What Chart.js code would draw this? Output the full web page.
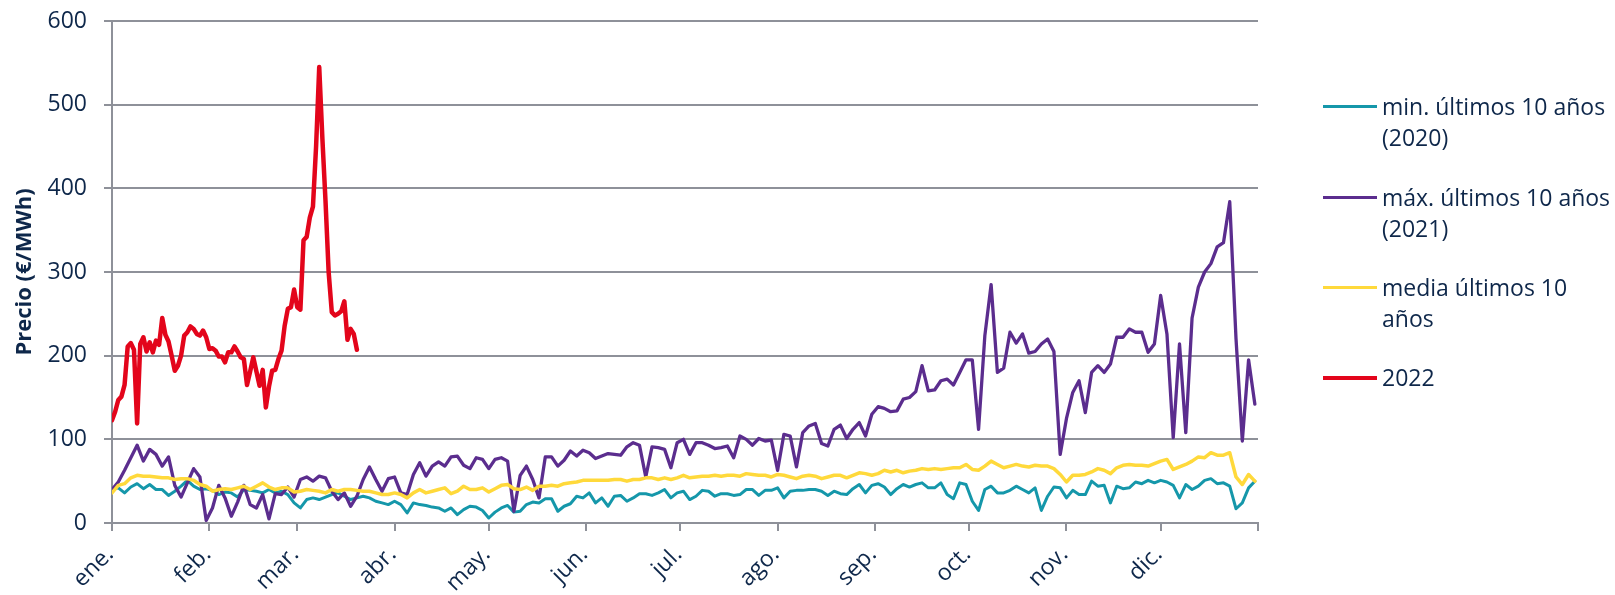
<!DOCTYPE html>
<html lang="es">
<head>
<meta charset="utf-8">
<title>Precio</title>
<script src="https://cdn.jsdelivr.net/npm/chart.js@4.4.1/dist/chart.umd.min.js"></script>
<style>
  html, body { margin: 0; padding: 0; background: #fff; }
  #wrap { position: relative; width: 1615px; height: 595px; overflow: hidden; }
  #chart { position: absolute; left: 0; top: 0; }
  .legend { position: absolute; left: 1323px; top: 0; font-family: 'Open Sans', sans-serif; font-size: 23px; line-height: 31px; color: #0e274a; }
  .item { position: absolute; left: 0; white-space: nowrap; }
  .swatch { position: absolute; left: 0; top: 14px; width: 54px; height: 3px; }
  .label { position: absolute; left: 59px; top: 0; }
</style>
</head>
<body>
<div id="wrap">
  <canvas id="chart" width="1615" height="595"></canvas>
  <div class="legend" id="legend"></div>
</div>
<script>
// eje x: día del año, con marcas al inicio de cada mes
const monthStarts = [0, 31, 59, 90, 120, 151, 181, 212, 243, 273, 304, 334, 365];
const monthLabels = ['ene.', 'feb.', 'mar.', 'abr.', 'may.', 'jun.', 'jul.', 'ago.', 'sep.', 'oct.', 'nov.', 'dic.'];

// series históricas: un valor cada 2 días (1 ene ... 31 dic)
const minLast10 = [
  40, 42, 36, 43, 47, 41, 46, 40, 40, 33, 38, 44, 51, 44, 40, 41, 39, 34, 37, 36, 31, 40, 39,
  38, 36, 40, 36, 38, 34, 24, 18, 28, 30, 28, 31, 34, 36, 32, 28, 30, 32, 30, 26, 24, 22, 26,
  22, 12, 24, 22, 21, 19, 18, 14, 18, 10, 16, 20, 19, 15, 6, 13, 18, 21, 13, 14, 22, 25, 24,
  29, 29, 14, 20, 23, 32, 30, 36, 24, 30, 20, 32, 33, 26, 30, 35, 35, 33, 36, 40, 30, 36,
  38, 28, 32, 39, 38, 32, 35, 35, 33, 34, 40, 40, 33, 39, 39, 42, 30, 38, 39, 39, 40, 40,
  38, 33, 38, 35, 34, 41, 46, 36, 45, 47, 43, 34, 41, 46, 43, 46, 48, 42, 42, 48, 34, 29,
  48, 46, 26, 15, 40, 44, 36, 36, 39, 44, 40, 36, 42, 15, 32, 43, 42, 30, 39, 34, 34, 50,
  44, 45, 24, 44, 41, 42, 49, 47, 51, 48, 51, 49, 45, 30, 46, 40, 44, 51, 53, 47, 48, 44,
  17, 24, 42, 50
];
const maxLast10 = [
  40, 49, 63, 78, 93, 74, 88, 82, 68, 79, 45, 31, 48, 65, 55, 3, 18, 45, 30, 8, 25, 45, 22,
  18, 34, 5, 35, 34, 43, 31, 52, 55, 50, 56, 54, 38, 28, 36, 20, 32, 52, 67, 52, 38, 53, 55,
  36, 34, 58, 72, 56, 68, 73, 68, 79, 80, 69, 65, 78, 76, 65, 76, 78, 74, 14, 57, 68, 52,
  30, 79, 79, 68, 75, 86, 80, 87, 84, 77, 80, 83, 82, 81, 91, 96, 93, 55, 91, 90, 88, 66, 96,
  100, 82, 96, 96, 93, 89, 90, 92, 78, 104, 100, 93, 101, 98, 99, 63, 106, 104, 67, 108,
  116, 119, 95, 92, 112, 117, 101, 112, 120, 104, 130, 139, 137, 133, 134, 148, 150, 157,
  188, 158, 159, 170, 172, 165,
  180, 195, 195, 112, 224, 285, 180, 185, 228, 215, 226, 203, 205, 214, 220, 205, 82, 125,
  156, 170, 132, 180, 188, 180, 190, 222, 222, 232, 228, 228, 204, 214, 272, 226, 102, 214,
  108, 245, 282, 300, 310, 330, 335, 384, 220, 98, 195, 142
];
const meanLast10 = [
  36, 45, 47, 54, 57, 56, 56, 55, 54, 54, 52, 53, 53, 51, 46, 44, 38, 40, 41, 40, 42, 44, 40,
  44, 48, 43, 40, 42, 42, 37, 38, 40, 39, 38, 36, 40, 38, 40, 40, 39, 38, 38, 36, 34, 34, 36,
  34, 30, 36, 40, 36, 38, 40, 42, 35, 38, 44, 40, 40, 42, 37, 41, 45, 46, 41, 40, 43, 39, 44,
  44, 45, 44, 47, 48, 49, 51, 51, 51, 51, 51, 52, 52, 50, 52, 52, 54, 54, 52, 54, 52, 54,
  57, 54, 55, 56, 56, 57, 56, 57, 57, 56, 59, 58, 57, 57, 55, 58, 57, 55, 53, 56, 57, 56,
  53, 55, 57, 57, 54, 57, 60, 59, 57, 59, 63, 61, 63, 60, 62, 63, 65, 64, 65, 64, 65, 66,
  66, 70, 64, 63, 68, 74, 70, 66, 68, 70, 68, 67, 69, 68, 68, 65, 58, 49, 57, 57, 58, 61,
  65, 63, 59, 66, 69, 70, 69, 69, 68, 71, 74, 76, 64, 67, 70, 74, 79, 78, 84, 81, 81, 84,
  55, 46, 58, 50
];
// 2022: un valor por día (1 ene ... 20 mar)
const year2022 = [
  123, 133, 147, 151, 165, 211, 215, 207, 119, 214, 222, 205, 216, 204, 218, 213, 245, 225,
  217, 200, 182, 188, 200, 224, 228, 235, 232, 226, 224, 230, 222, 208, 209, 206, 199, 199,
  192, 204, 204, 211, 205, 198, 196, 165, 181, 198, 181, 164, 183, 138, 163, 182, 183, 196,
  206, 236, 256, 258, 279, 258, 255, 338, 342, 365, 378, 450, 545, 460, 385, 300, 252, 248,
  250, 253, 265, 219, 232, 226, 207
];

const seriesNames = [['min. últimos 10 años', '(2020)'], ['máx. últimos 10 años', '(2021)'], ['media últimos 10', 'años'], ['2022']];
const colors = ['#1597aa', '#5b2d8e', '#ffd93b', '#e3051b'];
const widths = [3, 3.3, 3.5, 4.5];

const textColor = '#0e274a';
const gridColor = '#8e9199';
const fontFamily = "'Open Sans', sans-serif";

const toPoints = (vals, step) => vals.map((v, i) => ({ x: i * step, y: v }));
const seriesData = [toPoints(minLast10, 2), toPoints(maxLast10, 2), toPoints(meanLast10, 2), toPoints(year2022, 1)];

const chart = new Chart(document.getElementById('chart'), {
  type: 'line',
  data: {
    datasets: seriesData.map((d, i) => ({
      label: seriesNames[i].join(' '),
      data: d,
      borderColor: colors[i],
      borderWidth: widths[i],
      order: 3 - i
    }))
  },
  options: {
    responsive: false,
    animation: false,
    layout: { padding: { top: 21, right: 357, left: 0, bottom: 0 } },
    plugins: { legend: { display: false }, tooltip: { enabled: false } },
    elements: {
      point: { radius: 0 },
      line: { tension: 0, borderJoinStyle: 'round', borderCapStyle: 'round' }
    },
    scales: {
      x: {
        type: 'linear',
        min: 0,
        max: 365,
        afterBuildTicks: s => { s.ticks = monthStarts.map(v => ({ value: v })); },
        afterFit: s => { s.height = 72; s.paddingLeft = 0; s.paddingRight = 0; },
        grid: { drawOnChartArea: false, tickLength: 8, color: gridColor, lineWidth: 2 },
        border: { color: gridColor, width: 2 },
        ticks: {
          autoSkip: false,
          minRotation: 45,
          maxRotation: 45,
          padding: 10,
          labelOffset: -2,
          color: textColor,
          font: { family: fontFamily, size: 23 },
          callback: (v, i) => monthLabels[i] || ''
        }
      },
      y: {
        min: 0,
        max: 600,
        afterFit: s => { s.width = 112; s.paddingTop = 0; s.paddingBottom = 0; },
        grid: { color: gridColor, lineWidth: 2, tickLength: 8 },
        border: { color: gridColor, width: 2 },
        ticks: { stepSize: 100, padding: 17, color: textColor, font: { family: fontFamily, size: 23 } },
        title: {
          display: true,
          text: 'Precio (€/MWh)',
          color: textColor,
          font: { family: fontFamily, size: 22, weight: 'bold' },
          padding: { top: 12, bottom: 0 }
        }
      }
    }
  }
});

// leyenda a la derecha, con los textos partidos en dos líneas como en el original
const legendTops = [91, 182, 272, 362];
const legend = document.getElementById('legend');
seriesNames.forEach((lines, i) => {
  const item = document.createElement('div');
  item.className = 'item';
  item.style.top = legendTops[i] + 'px';
  const sw = document.createElement('div');
  sw.className = 'swatch';
  sw.style.background = colors[i];
  sw.style.height = (i === 3 ? 4 : 3) + 'px';
  const lab = document.createElement('div');
  lab.className = 'label';
  lab.innerHTML = lines.join('<br>');
  item.appendChild(sw);
  item.appendChild(lab);
  legend.appendChild(item);
});
</script>
</body>
</html>
